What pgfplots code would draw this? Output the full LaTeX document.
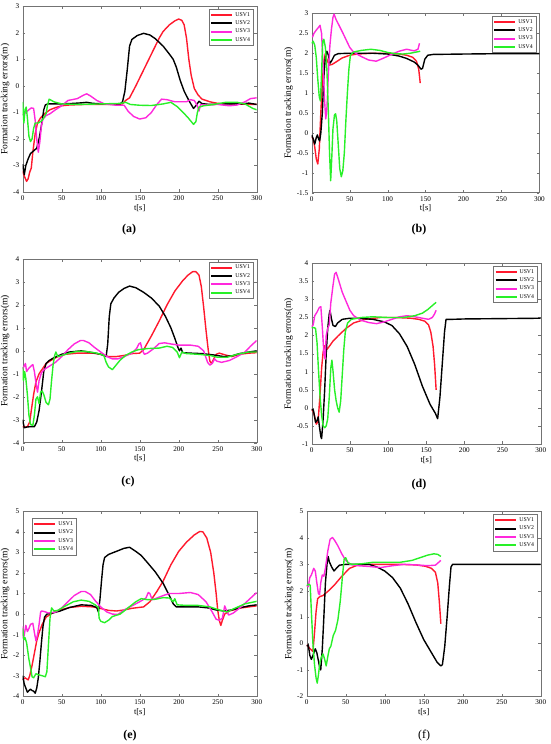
\documentclass[border=0pt]{standalone}
\usepackage{fontspec}
\setmainfont{Liberation Serif}
\usepackage{pgfplots}
\pgfplotsset{compat=1.18}
\definecolor{cR}{RGB}{255,25,45}
\definecolor{cK}{RGB}{0,0,0}
\definecolor{cM}{RGB}{255,40,220}
\definecolor{cG}{RGB}{40,240,40}
\pgfplotsset{
  panel/.style={
    scale only axis,
    xmin=0, xmax=300, xtick={0,50,...,300},
    tick align=inside, major tick length=2.5pt,
    axis line style={black!55}, tick style={black!55},
    tick label style={font=\fontsize{7.2}{8}\selectfont},
    xlabel style={font=\fontsize{8.5}{9}\selectfont, yshift=3pt},
    ylabel style={font=\fontsize{9.5}{10}\selectfont, yshift=-3pt},
    /pgf/number format/assume math mode=true,
    xlabel={t[s]}, ylabel={Formation tracking errors(m)},
    legend style={font=\fontsize{5.8}{6.2}\selectfont, draw=black!55, inner sep=1pt, row sep=-1pt,
      at={(0.985,0.985)}, anchor=north east},
    legend cell align=left,
    legend image code/.code={\draw[##1, line width=2pt] (0pt,0pt) -- (21pt,0pt);},
    every axis plot/.append style={line width=1.4pt, line join=round},
  },
  u1/.style={color=cR}, u2/.style={color=cK}, u3/.style={color=cM}, u4/.style={color=cG},
}
\begin{document}
\begin{tikzpicture}
\path[use as bounding box] (0pt,0pt) rectangle (550pt,744pt);
% (a)
\begin{axis}[panel, at={(22.7pt,552pt)}, anchor=south west, width=234pt, height=185.7pt,
  ymin=-4, ymax=3, ytick={-4,...,3}]
\addplot[u1] coordinates {(0,-3.2)(2,-3.4)(5,-3.6)(7,-3.5)(9,-3.25)(11,-3.1)(13,-2.5)(16,-1.8)(19,-1.4)(23,-1.2)(28,-1.05)(35,-0.9)(42,-0.82)(50,-0.75)(60,-0.72)(80,-0.7)(100,-0.7)(120,-0.7)(128,-0.68)(132,-0.55)(137,-0.45)(145,0.0)(155,0.6)(165,1.2)(175,1.8)(180,2.05)(188,2.3)(195,2.45)(200,2.52)(204,2.47)(207,2.3)(210,1.8)(213,1.0)(216,0.4)(220,-0.1)(225,-0.35)(230,-0.5)(240,-0.6)(250,-0.66)(270,-0.68)(300,-0.7)};
\addplot[u2] coordinates {(0,-2.95)(2,-3.35)(4,-3.0)(7,-2.75)(10,-2.55)(14,-2.45)(18,-2.35)(21,-2.0)(24,-1.5)(27,-0.9)(29,-0.72)(32,-0.68)(50,-0.68)(65,-0.66)(75,-0.64)(82,-0.62)(90,-0.66)(110,-0.68)(125,-0.68)(128,-0.6)(131,-0.2)(134,0.6)(137,1.5)(140,1.75)(147,1.9)(155,1.98)(163,1.92)(170,1.78)(180,1.5)(188,1.2)(193,1.0)(197,0.7)(202,0.2)(207,-0.2)(213,-0.55)(219,-0.85)(222,-0.75)(226,-0.58)(230,-0.67)(240,-0.7)(260,-0.68)(280,-0.68)(290,-0.65)(300,-0.7)};
\addplot[u3] coordinates {(0,-1.1)(4,-1.0)(8,-0.9)(11,-0.83)(14,-0.85)(16,-1.3)(18,-2.0)(20,-2.5)(22,-2.1)(24,-1.5)(26,-1.25)(30,-1.12)(35,-1.05)(42,-0.9)(50,-0.75)(58,-0.55)(70,-0.48)(78,-0.35)(82,-0.3)(87,-0.38)(95,-0.55)(105,-0.68)(120,-0.73)(130,-0.73)(135,-0.95)(142,-1.15)(150,-1.25)(158,-1.2)(165,-1.0)(172,-0.7)(178,-0.5)(185,-0.52)(195,-0.6)(210,-0.6)(215,-0.52)(220,-0.55)(224,-0.75)(226,-0.95)(228,-0.7)(235,-0.72)(250,-0.7)(265,-0.75)(275,-0.72)(285,-0.6)(292,-0.48)(300,-0.45)};
\addplot[u4] coordinates {(0,-0.6)(1.5,-1.4)(3,-0.9)(4.5,-0.8)(6,-1.2)(8,-1.9)(10,-2.1)(12,-2.0)(14,-1.6)(16,-1.4)(20,-1.4)(25,-1.3)(30,-1.05)(32,-0.7)(34,-0.5)(40,-0.6)(50,-0.68)(70,-0.7)(100,-0.68)(125,-0.66)(132,-0.62)(138,-0.7)(150,-0.73)(165,-0.74)(180,-0.68)(190,-0.62)(198,-0.78)(205,-0.98)(212,-1.2)(219,-1.45)(222,-1.35)(224,-1.0)(226,-0.8)(232,-0.75)(245,-0.7)(260,-0.62)(275,-0.62)(285,-0.68)(295,-0.85)(300,-0.9)};
\legend{USV1,USV2,USV3,USV4}
\end{axis}
% (b)
\begin{axis}[panel, at={(311.7pt,551.3pt)}, anchor=south west, width=227.7pt, height=179.3pt,
  ymin=-1.5, ymax=3, ytick={-1.5,-1,...,3}]
\addplot[u1] coordinates {(0,-0.1)(2,-0.15)(4,-0.35)(6,-0.65)(8,-0.78)(10,-0.4)(12,0.5)(14,1.3)(16,1.8)(18,2.0)(20,1.85)(23,1.7)(27,1.72)(32,1.78)(40,1.88)(50,1.95)(60,1.98)(80,2.0)(100,2.0)(115,1.98)(125,1.95)(133,1.9)(138,1.8)(141,1.6)(143,1.25)};
\addplot[u2] coordinates {(0,-0.05)(2,-0.15)(4,-0.28)(6,-0.12)(7.5,-0.05)(9,-0.15)(10.5,-0.2)(12,0.0)(14,0.5)(16,1.4)(18,1.9)(20,2.05)(22,1.95)(24,1.75)(26,1.8)(30,1.95)(35,1.99)(50,2.0)(80,2.0)(100,1.98)(115,1.93)(125,1.87)(135,1.78)(140,1.7)(144,1.6)(146,1.62)(149,1.85)(153,1.95)(160,1.97)(200,1.98)(250,1.99)(300,1.99)};
\addplot[u3] coordinates {(1,2.4)(3,2.5)(6,2.58)(9,2.65)(11,2.7)(13,2.5)(15,1.7)(17,0.8)(18.5,0.35)(20,0.6)(22,1.5)(24,2.2)(26,2.6)(28,2.9)(29.5,2.98)(32,2.85)(36,2.7)(40,2.55)(45,2.35)(50,2.15)(55,2.03)(65,1.92)(75,1.83)(85,1.8)(95,1.88)(105,1.97)(115,2.05)(125,2.1)(135,2.06)(140,2.1)(142,2.25)};
\addplot[u4] coordinates {(0,2.25)(2,2.3)(4,2.2)(6,1.9)(8,1.35)(10,0.9)(11.5,0.8)(13,1.5)(14.5,2.3)(16,2.35)(18,2.15)(20,1.6)(22,0.5)(23.5,-0.5)(25,-1.2)(26.5,-0.6)(28,0.1)(30,0.45)(31.5,0.48)(33,0.3)(35,-0.3)(37,-0.9)(39,-1.1)(41,-0.95)(43,-0.5)(45,0.3)(47,1.0)(49,1.6)(51,1.95)(55,2.03)(65,2.07)(78,2.1)(90,2.07)(100,2.02)(110,1.99)(120,1.98)(130,2.0)(143,2.05)};
\legend{USV1,USV2,USV3,USV4}
\end{axis}
% (c)
\begin{axis}[panel, at={(22.7pt,301.3pt)}, anchor=south west, width=234pt, height=183.7pt,
  ymin=-4, ymax=4, ytick={-4,...,4}]
\addplot[u1] coordinates {(0,-3.3)(3,-3.32)(6,-3.3)(9,-3.1)(11,-2.6)(14,-1.9)(17,-1.35)(21,-1.0)(25,-0.8)(30,-0.55)(38,-0.38)(45,-0.25)(55,-0.15)(70,-0.1)(90,-0.1)(100,-0.15)(110,-0.25)(120,-0.25)(130,-0.2)(140,-0.12)(150,-0.1)(155,0.05)(160,0.35)(165,0.65)(175,1.3)(185,2.0)(195,2.6)(205,3.05)(212,3.3)(218,3.45)(222,3.45)(226,3.3)(229,2.8)(232,1.9)(235,0.9)(238,0.0)(240,-0.45)(242,-0.55)(245,-0.35)(248,-0.15)(252,-0.1)(260,-0.18)(268,-0.25)(278,-0.15)(290,-0.1)(300,-0.08)};
\addplot[u2] coordinates {(0,-3.0)(2,-3.35)(5,-3.32)(10,-3.3)(15,-3.3)(18,-3.1)(21,-2.6)(24,-1.8)(27,-0.9)(30,-0.55)(34,-0.42)(40,-0.3)(50,-0.15)(60,-0.05)(75,0.0)(90,-0.08)(100,-0.15)(107,-0.25)(109,0.3)(111,1.5)(113,2.05)(117,2.3)(123,2.55)(130,2.72)(137,2.82)(145,2.75)(155,2.55)(165,2.3)(175,1.95)(183,1.5)(190,1.0)(195,0.55)(199,0.15)(201,0.0)(203,0.12)(205,-0.08)(215,-0.1)(230,-0.12)(245,-0.18)(258,-0.25)(268,-0.22)(278,-0.12)(290,-0.05)(300,0.0)};
\addplot[u3] coordinates {(0,-0.8)(2,-0.65)(3.5,-0.55)(5,-0.9)(8,-0.75)(11,-0.65)(13,-0.6)(15,-0.9)(17,-1.4)(19,-1.8)(21,-1.3)(24,-0.95)(28,-0.8)(35,-0.65)(42,-0.5)(50,-0.25)(58,0.05)(66,0.3)(74,0.45)(78,0.45)(85,0.35)(92,0.15)(100,-0.05)(108,-0.25)(115,-0.35)(122,-0.35)(130,-0.25)(140,-0.1)(146,0.1)(149,0.3)(151,0.35)(153,0.05)(156,-0.15)(160,-0.1)(168,0.1)(175,0.32)(182,0.35)(190,0.3)(200,0.25)(215,0.25)(225,0.2)(232,0.0)(237,-0.5)(240,-0.62)(243,-0.55)(246,-0.35)(249,-0.45)(255,-0.5)(265,-0.42)(275,-0.25)(285,-0.05)(292,0.2)(300,0.45)};
\addplot[u4] coordinates {(0,-0.7)(1,-1.3)(2.5,-0.9)(4,-1.2)(6,-1.9)(8,-2.8)(10,-3.2)(13,-3.25)(15,-2.8)(17,-2.1)(19,-2.0)(21,-2.3)(23,-1.8)(25,-1.75)(27,-1.9)(30,-2.25)(33,-2.35)(35,-2.1)(37,-1.3)(39,-0.6)(41,-0.2)(42.5,-0.05)(45,-0.25)(50,-0.2)(60,-0.1)(70,-0.02)(80,-0.02)(95,-0.1)(104,-0.2)(107,-0.5)(110,-0.7)(115,-0.82)(119,-0.65)(125,-0.4)(132,-0.2)(140,-0.05)(148,0.05)(160,0.1)(175,0.12)(185,0.2)(192,0.15)(198,-0.05)(201,-0.3)(204,-0.05)(210,-0.12)(225,-0.15)(240,-0.2)(250,-0.28)(262,-0.28)(275,-0.15)(290,-0.05)(300,-0.05)};
\legend{USV1,USV2,USV3,USV4}
\end{axis}
% (d)
\begin{axis}[panel, at={(311.7pt,300pt)}, anchor=south west, width=229pt, height=180.7pt,
  ymin=-1, ymax=4, ytick={-1,-0.5,...,4}]
\addplot[u1] coordinates {(0,-0.05)(2,-0.1)(4,-0.25)(6,-0.45)(7.5,-0.4)(9,-0.2)(11,0.4)(13,1.1)(15,1.55)(17,1.72)(20,1.62)(23,1.7)(28,1.85)(35,2.0)(45,2.2)(55,2.35)(70,2.45)(90,2.5)(110,2.5)(130,2.48)(140,2.45)(148,2.4)(153,2.3)(156,2.1)(159,1.7)(161,1.2)(163,0.5)};
\addplot[u2] coordinates {(0,-0.05)(2,-0.05)(3,-0.15)(5,-0.4)(7,-0.35)(8.5,-0.25)(10,-0.5)(12,-0.8)(13,-0.85)(15,-0.3)(17,0.5)(19,1.5)(21,2.2)(23,2.6)(24,2.7)(26,2.45)(28,2.28)(31,2.25)(34,2.35)(40,2.45)(50,2.48)(60,2.48)(80,2.45)(95,2.38)(105,2.28)(115,2.05)(125,1.7)(135,1.2)(145,0.6)(155,0.1)(162,-0.15)(165,-0.3)(168,0.3)(171,1.2)(174,2.1)(176,2.45)(178,2.45)(185,2.45)(200,2.46)(300,2.48)};
\addplot[u3] coordinates {(0,2.25)(2,2.3)(4,2.55)(7,2.65)(10,2.78)(12,2.8)(14,2.2)(16,1.5)(17.5,1.35)(19,2.0)(21,2.2)(23,2.3)(25,2.9)(28,3.4)(30,3.7)(32,3.75)(35,3.55)(40,3.2)(45,2.95)(50,2.7)(55,2.55)(65,2.42)(75,2.36)(85,2.33)(95,2.38)(105,2.45)(115,2.52)(125,2.55)(135,2.52)(145,2.48)(153,2.45)(158,2.5)(161,2.6)(163,2.7)};
\addplot[u4] coordinates {(0,2.22)(3,2.22)(5,2.2)(7,1.8)(9,1.0)(11,0.3)(13,-0.2)(15,-0.5)(17,-0.55)(19,-0.5)(21,-0.3)(23,0.3)(25,1.1)(26.5,1.32)(28,1.0)(30,0.5)(32,0.2)(34,0.0)(36,-0.12)(38,0.2)(40,0.9)(42,1.6)(44,2.1)(47,2.35)(52,2.45)(65,2.5)(80,2.52)(100,2.5)(120,2.5)(135,2.55)(145,2.62)(152,2.72)(158,2.83)(163,2.92)};
\legend{USV1,USV2,USV3,USV4}
\end{axis}
% (e)
\begin{axis}[panel, at={(22.7pt,47.7pt)}, anchor=south west, width=234pt, height=185pt,
  ymin=-4, ymax=5, ytick={-4,...,5},
  legend style={at={(0.041,0.962)}, anchor=north west}]
\addplot[u1] coordinates {(0,-3.2)(3,-3.1)(5,-3.15)(7,-3.2)(9,-3.0)(12,-2.5)(15,-1.9)(18,-1.3)(21,-0.9)(25,-0.5)(30,-0.15)(38,0.05)(48,0.2)(60,0.32)(75,0.38)(90,0.35)(100,0.27)(110,0.18)(120,0.15)(130,0.2)(140,0.28)(155,0.35)(163,0.6)(172,1.1)(180,1.6)(190,2.4)(200,3.05)(210,3.5)(220,3.85)(227,4.02)(231,4.0)(236,3.7)(241,3.0)(245,2.0)(248,1.0)(250,0.2)(252,-0.3)(254,-0.55)(256,-0.3)(259,0.0)(265,0.15)(280,0.3)(290,0.35)(300,0.4)};
\addplot[u2] coordinates {(0,-3.0)(2,-3.4)(4,-3.6)(6,-3.8)(8,-3.72)(10,-3.65)(12,-3.72)(14,-3.75)(16,-3.85)(18,-3.6)(20,-3.1)(22,-2.3)(24,-1.4)(26,-0.6)(28,-0.15)(31,0.0)(38,0.05)(48,0.15)(60,0.32)(75,0.45)(88,0.42)(95,0.32)(97,0.1)(99,0.7)(101,1.6)(103,2.4)(105,2.75)(110,2.9)(120,3.05)(130,3.2)(137,3.25)(145,3.05)(152,2.85)(160,2.5)(170,2.05)(180,1.5)(188,0.9)(193,0.5)(197,0.35)(210,0.35)(225,0.35)(238,0.3)(248,0.2)(258,0.15)(268,0.2)(280,0.32)(290,0.4)(300,0.45)};
\addplot[u3] coordinates {(0,-0.6)(1,-1.2)(2.5,-0.9)(4,-0.55)(6,-0.85)(8,-0.7)(10,-0.5)(13,-0.45)(15,-0.9)(17,-1.3)(19,-1.0)(21,-0.5)(23,0.1)(24,0.15)(28,0.12)(33,0.05)(42,0.1)(50,0.3)(58,0.6)(66,0.9)(75,1.1)(80,1.1)(87,0.95)(93,0.65)(100,0.35)(108,0.1)(115,0.0)(122,-0.02)(130,0.2)(140,0.4)(150,0.6)(158,0.78)(161,1.05)(163,1.0)(166,0.7)(170,0.75)(180,0.9)(188,1.0)(200,1.0)(215,1.05)(225,0.95)(235,0.6)(243,0.1)(248,-0.25)(252,-0.3)(256,-0.2)(259,0.4)(261,0.2)(264,-0.05)(270,0.05)(280,0.35)(290,0.7)(300,1.05)};
\addplot[u4] coordinates {(0,-0.7)(1.5,-1.25)(3,-1.15)(5,-1.4)(8,-2.2)(10,-2.6)(12,-3.05)(14,-3.1)(17,-2.9)(20,-2.95)(25,-3.0)(29,-3.05)(31,-2.8)(33,-1.5)(35,-0.2)(37,0.3)(40,0.15)(45,0.18)(55,0.4)(65,0.6)(75,0.68)(85,0.62)(93,0.45)(97,0.32)(98,-0.2)(100,-0.35)(105,-0.42)(110,-0.3)(115,-0.12)(125,0.0)(135,0.3)(145,0.6)(152,0.75)(160,0.7)(170,0.72)(180,0.8)(188,0.78)(193,0.6)(195,0.75)(198,0.45)(210,0.42)(225,0.42)(240,0.35)(250,0.22)(262,0.1)(270,0.25)(285,0.5)(300,0.62)};
\legend{USV1,USV2,USV3,USV4}
\end{axis}
% (f)
\begin{axis}[panel, at={(306.7pt,47.7pt)}, anchor=south west, width=234pt, height=184.7pt,
  ymin=-2, ymax=5, ytick={-2,...,5}]
\addplot[u1] coordinates {(0,-0.05)(3,-0.15)(6,-0.25)(8,-0.3)(10,0.4)(12,1.2)(14,1.7)(17,1.78)(21,1.82)(28,2.0)(35,2.2)(45,2.55)(55,2.85)(65,2.97)(80,3.0)(100,3.0)(120,3.0)(140,2.98)(152,2.93)(160,2.85)(165,2.7)(168,2.3)(170,1.6)(172,0.75)};
\addplot[u2] coordinates {(0,-0.1)(2,-0.05)(4,-0.45)(6,-0.6)(8,-0.45)(11,-0.2)(13,-0.35)(15,-0.65)(17,-0.95)(18,-1.0)(20,-0.2)(22,1.0)(24,2.3)(26,3.0)(27.5,3.3)(29,3.1)(32,2.9)(35,2.75)(38,2.85)(42,2.97)(50,3.0)(80,3.0)(90,2.9)(100,2.75)(110,2.5)(120,2.1)(130,1.5)(140,0.8)(150,0.15)(160,-0.35)(167,-0.7)(172,-0.85)(174,-0.8)(177,-0.1)(180,1.0)(183,2.2)(185,2.9)(187,3.0)(200,3.0)(300,3.0)};
\addplot[u3] coordinates {(0,2.2)(2,2.15)(4,2.5)(6,2.6)(9,2.85)(11,2.75)(13,2.3)(15,1.9)(16.5,1.85)(18,2.3)(20,2.6)(22,2.55)(24,2.85)(27,3.5)(30,3.95)(33,4.02)(36,3.9)(40,3.7)(45,3.4)(50,3.15)(56,3.0)(65,2.95)(80,2.92)(95,2.88)(110,2.95)(125,3.0)(140,2.98)(155,2.95)(165,2.97)(172,3.15)};
\addplot[u4] coordinates {(0,2.2)(3,2.25)(4.5,2.2)(6,1.2)(8,0.0)(10,-0.8)(12,-1.3)(13.5,-1.5)(15,-1.2)(17,-0.7)(19,-0.5)(21,-0.4)(23,-0.6)(25,-0.85)(27,-0.5)(29,-0.2)(31,-0.1)(34,0.3)(37,0.5)(40,0.9)(43,1.6)(46,2.6)(48,3.2)(50,3.25)(53,3.05)(58,3.0)(70,3.02)(85,3.08)(100,3.08)(120,3.08)(135,3.15)(145,3.25)(155,3.35)(163,3.4)(168,3.38)(172,3.3)};
\legend{USV1,USV2,USV3,USV4}
\end{axis}
\node[font=\bfseries\fontsize{12}{13}\selectfont] at (129pt,514pt) {(a)};
\node[font=\bfseries\fontsize{12}{13}\selectfont] at (419pt,514pt) {(b)};
\node[font=\bfseries\fontsize{12}{13}\selectfont] at (128pt,262pt) {(c)};
\node[font=\bfseries\fontsize{12}{13}\selectfont] at (419pt,259pt) {(d)};
\node[font=\bfseries\fontsize{12}{13}\selectfont] at (130pt,8pt) {(e)};
\node[font=\fontsize{12}{13}\selectfont] at (424pt,8pt) {(f)};
\end{tikzpicture}
\end{document}
